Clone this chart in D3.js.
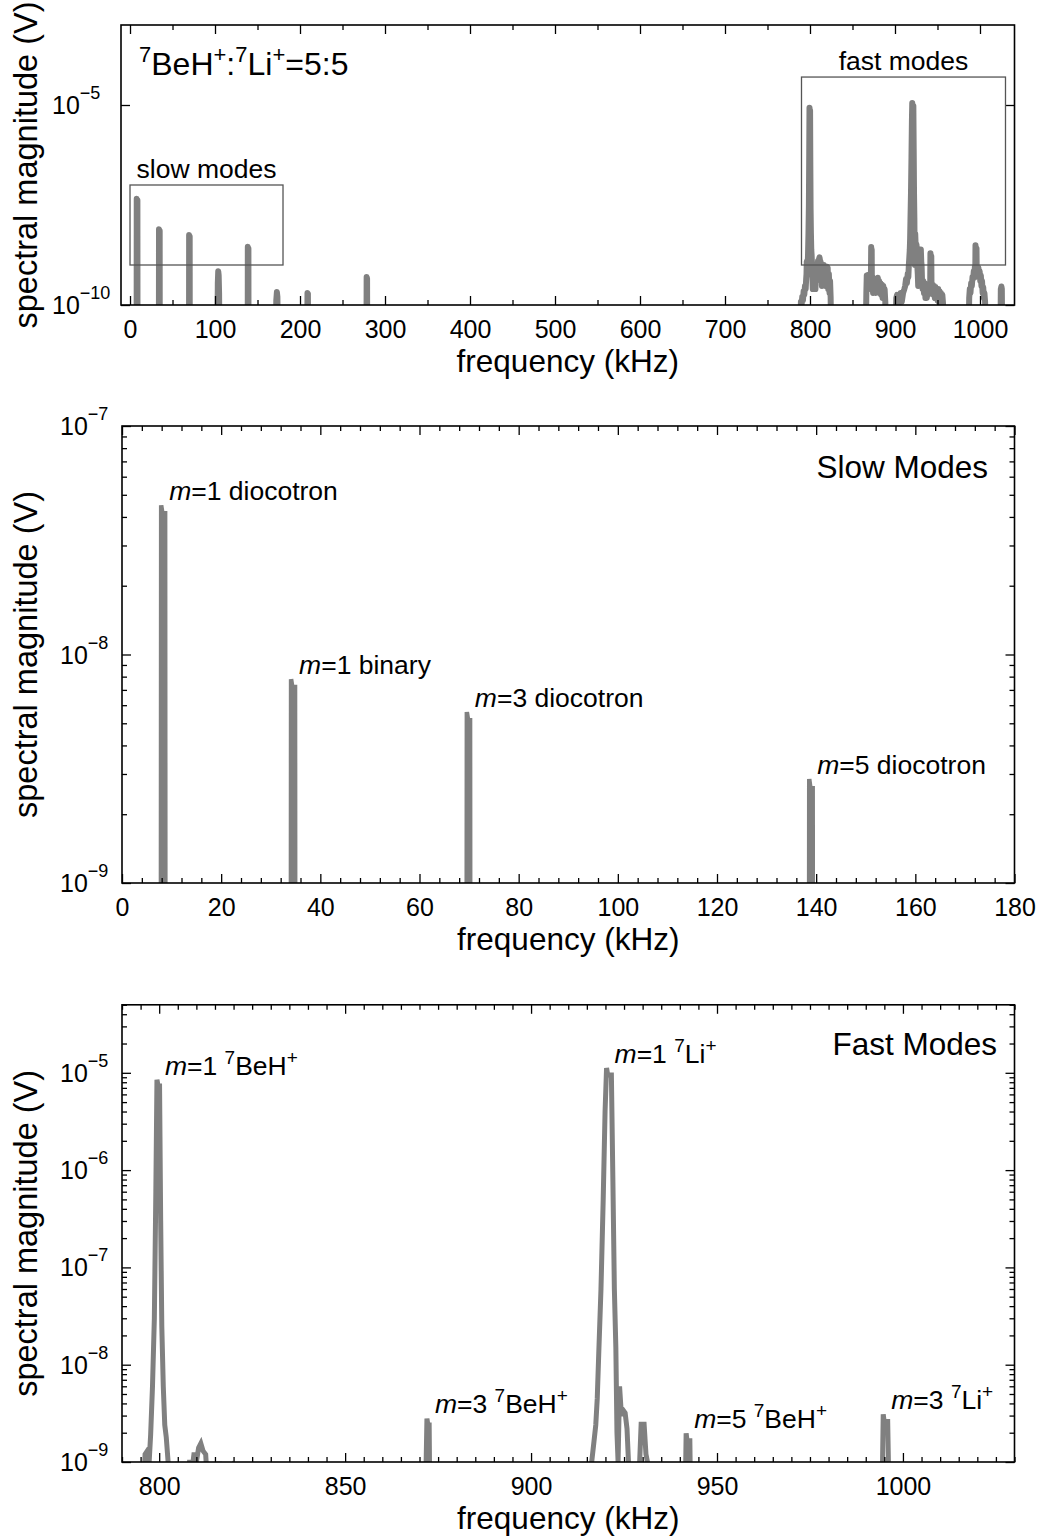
<!DOCTYPE html>
<html>
<head>
<meta charset="utf-8">
<script src="https://cdn.jsdelivr.net/npm/d3@7"></script>
<style>
  body { margin: 0; background: #fff; }
  text { font-family: 'Liberation Sans', Arial, Helvetica, sans-serif; fill: #000; }
</style>
</head>
<body>
<svg id="fig" width="1039" height="1539"></svg>
<script>
// ---- spectrum: [frequency (kHz), spectral magnitude (V)] ----
const slowSpectrum = [
  [0, 1e-11],
  [7.8, 1e-11], [7.9, 4.5e-8], [8.15, 4.15e-8], [8.7, 4.15e-8], [8.8, 1e-11],
  [34.0, 1e-11], [34.1, 7.8e-9], [34.35, 7.2e-9], [34.9, 7.2e-9], [35.0, 1e-11],
  [69.45, 1e-11], [69.55, 5.6e-9], [69.8, 5.15e-9], [70.2, 5.15e-9], [70.3, 1e-11],
  [102.8, 1e-11], [103.3, 3.5e-10], [103.8, 7e-10], [104.3, 5.5e-10], [104.8, 2e-10], [105.2, 1e-11],
  [138.5, 1e-11], [138.6, 2.85e-9], [138.85, 2.6e-9], [139.3, 2.6e-9], [139.4, 1e-11],
  [171.6, 1e-11], [172.1, 1.3e-10], [172.8, 2.1e-10], [173.4, 1.6e-10], [173.9, 1e-11],
  [208.5, 1e-11], [208.8, 2e-10], [209.3, 1.9e-10], [209.6, 1e-11],
  [278.2, 1e-11], [278.4, 5e-10], [278.9, 4.6e-10], [279.1, 1e-11]
];

const fastSpectrum = [
  // m=1 7BeH+ and its skirt
  [788.5, 1e-11], [789.3, 1.2e-10], [790.1, 1e-10], [790.9, 1.6e-10], [791.7, 1.3e-10],
  [792.5, 2.2e-10], [793.3, 1.8e-10], [794.1, 3e-10], [794.9, 2.5e-10], [795.5, 4.5e-10],
  [795.9, 6e-10], [796.2, 1.2e-9], [796.8, 1.3e-9], [797.3, 1.0e-9], [797.7, 1.9e-9],
  [798.2, 6e-9], [798.7, 3e-8], [799.1, 6e-7], [799.4, 8.5e-6], [799.7, 7.3e-6],
  [800.1, 7.3e-6], [800.4, 3e-7], [800.7, 2.5e-8], [801.1, 6e-9], [801.5, 2.4e-9],
  [801.9, 1.8e-9], [802.4, 1.0e-9], [802.8, 5e-10], [803.3, 2.5e-10], [803.8, 6e-10],
  [804.3, 3e-10], [805.0, 1.0e-9], [805.4, 4e-10], [805.9, 7e-10], [806.4, 2.5e-10],
  [806.9, 6e-10], [807.5, 4e-10], [808.2, 1.05e-9], [808.8, 8e-10], [809.4, 1.25e-9],
  [810.0, 1.0e-9], [810.6, 1.4e-9], [811.2, 1.55e-9], [811.8, 1.3e-9], [812.5, 1.2e-9],
  [813.0, 6e-10], [813.5, 8e-10], [814.0, 3e-10], [814.6, 7e-10], [815.2, 4e-10],
  [816.2, 1.0e-9], [817.0, 5e-10], [817.6, 8e-10], [818.2, 3e-10], [818.8, 7e-10],
  [819.5, 4e-10], [820.2, 9e-10], [820.8, 8.5e-10], [821.5, 2.5e-10], [822.2, 6e-10],
  [823.0, 2e-10], [823.6, 4e-10], [824.3, 1.5e-10], [825.0, 1e-11],
  // m=3 7BeH+ region
  [865.5, 1e-11], [866.3, 2e-10], [866.8, 5.5e-10], [867.4, 3e-10], [868.0, 5.6e-10],
  [868.6, 2.5e-10], [869.3, 5e-10], [870.0, 3e-10], [870.8, 5e-10], [871.6, 4e-10],
  [872.0, 2.8e-9], [872.25, 2.4e-9], [872.6, 2.4e-9], [872.8, 3e-10], [873.5, 4.5e-10],
  [874.2, 2e-10], [875.0, 4e-10], [875.8, 2.5e-10], [876.6, 4.5e-10], [877.4, 2e-10],
  [878.2, 4.2e-10], [879.0, 3e-10], [879.8, 4.8e-10], [880.6, 2.5e-10], [881.4, 4e-10],
  [882.2, 2e-10], [883.0, 3.5e-10], [883.8, 1.8e-10], [884.6, 3.2e-10], [885.4, 1.5e-10],
  [886.2, 3e-10], [887.0, 1.5e-10], [887.8, 2.5e-10], [888.6, 1.2e-10], [889.5, 1e-11],
  // m=1 7Li+, m=5 7BeH+ region
  [900.5, 1e-11], [901.5, 1.5e-10], [902.5, 1.8e-10], [903.5, 1e-10], [905.0, 1.2e-10],
  [906.5, 2e-10], [908.0, 1.2e-10], [909.5, 2e-10], [911.0, 2.5e-10], [912.0, 3e-10],
  [913.0, 4.5e-10], [914.0, 3.5e-10], [915.0, 6e-10], [915.7, 5e-10], [916.3, 1.0e-9],
  [916.9, 1.6e-9], [917.4, 2.4e-9], [917.8, 4.5e-9], [918.2, 1.3e-8], [918.8, 6e-8],
  [919.4, 5e-7], [919.9, 4e-6], [920.3, 1.12e-5], [920.6, 9.5e-6], [921.6, 9.5e-6],
  [922.0, 8e-7], [922.4, 6e-8], [922.8, 1.5e-8], [923.1, 2e-9], [923.4, 1.0e-9],
  [923.8, 6e-9], [924.3, 3e-9], [924.8, 3.4e-9], [925.3, 3.2e-9], [925.8, 2.2e-9],
  [926.2, 1.0e-9], [926.8, 6e-10], [927.3, 3e-10], [927.8, 5e-10], [928.3, 3.5e-10],
  [928.8, 6e-10], [929.2, 1.0e-9], [929.6, 2.45e-9], [930.4, 2.45e-9], [930.9, 1.2e-9],
  [931.3, 1.0e-9], [931.8, 4e-10], [932.5, 2.5e-10], [933.3, 4e-10], [934.1, 2e-10],
  [935.0, 3.5e-10], [935.8, 1.5e-10], [936.6, 3e-10], [937.4, 1.5e-10], [938.2, 2.8e-10],
  [939.0, 1.8e-10], [939.8, 3e-10], [940.6, 2e-10], [941.4, 3e-10], [941.7, 1.97e-9],
  [941.95, 1.65e-9], [942.7, 1.65e-9], [942.95, 3e-10], [943.7, 2e-10], [944.5, 3.2e-10],
  [945.3, 1.8e-10], [946.1, 3e-10], [946.9, 1.5e-10], [947.7, 2.8e-10], [948.5, 1.5e-10],
  [949.3, 2.6e-10], [950.1, 1.3e-10], [950.9, 2.5e-10], [951.7, 1.2e-10], [952.5, 2.2e-10],
  [953.3, 1.2e-10], [954.1, 2e-10], [954.9, 1.1e-10], [955.7, 1.8e-10], [956.5, 1.1e-10],
  [957.5, 1e-11],
  // m=3 7Li+ region
  [986.5, 1e-11], [987.3, 1.5e-10], [988.0, 2.5e-10], [988.8, 2e-10], [989.6, 3.5e-10],
  [990.4, 3e-10], [991.2, 5e-10], [992.0, 4.5e-10], [992.7, 7e-10], [993.4, 6e-10],
  [994.0, 9e-10], [994.4, 5e-10], [994.7, 3.1e-9], [994.95, 2.6e-9], [995.9, 2.6e-9],
  [996.2, 6e-10], [996.8, 9e-10], [997.5, 6e-10], [998.2, 8.5e-10], [998.9, 5e-10],
  [999.6, 7e-10], [1000.3, 4e-10], [1001.0, 5.5e-10], [1001.7, 3e-10], [1002.4, 4e-10],
  [1003.1, 2e-10], [1003.8, 2.8e-10], [1004.5, 1.5e-10], [1005.2, 2e-10], [1006.0, 1.2e-10],
  [1007.0, 1e-11],
  [1024.0, 1e-11], [1024.5, 2.5e-10], [1025.2, 2.9e-10], [1025.7, 2.5e-10], [1026.2, 1e-11],
  [1040, 1e-11]
];

// ---- tick values / labels ----
const overviewXTicks = d3.range(0, 1001, 100);
const overviewXMinor = d3.range(50, 1000, 100);
const overviewYExp = [-10, -5];
const slowXTicks = d3.range(0, 181, 20);
const slowXMinor = d3.range(0, 181, 4).filter(v => v % 20 !== 0);
const slowYExp = [-9, -8, -7];
const fastXTicks = [800, 850, 900, 950, 1000];
const fastXMinor = d3.range(790, 1031, 5).filter(v => v % 50 !== 0);
const fastYExp = [-9, -8, -7, -6, -5];

// ---- peak annotations: label parts + the peak point they sit on ----
const slowLabels = [
  { f: 7.9,   v: 4.5e-8,  parts: [{ t: 'm', i: 1 }, { t: '=1 diocotron' }] },
  { f: 34.1,  v: 7.8e-9,  parts: [{ t: 'm', i: 1 }, { t: '=1 binary' }] },
  { f: 69.55, v: 5.6e-9,  parts: [{ t: 'm', i: 1 }, { t: '=3 diocotron' }] },
  { f: 138.6, v: 2.85e-9, parts: [{ t: 'm', i: 1 }, { t: '=5 diocotron' }] }
];
const fastLabels = [
  { f: 799.4, v: 8.5e-6,  parts: [{ t: 'm', i: 1 }, { t: '=1 ' }, { t: '7', s: 1 }, { t: 'BeH' }, { t: '+', s: 1 }] },
  { f: 920.3, v: 1.12e-5, parts: [{ t: 'm', i: 1 }, { t: '=1 ' }, { t: '7', s: 1 }, { t: 'Li' }, { t: '+', s: 1 }] },
  { f: 872.0, v: 2.8e-9,  parts: [{ t: 'm', i: 1 }, { t: '=3 ' }, { t: '7', s: 1 }, { t: 'BeH' }, { t: '+', s: 1 }] },
  { f: 941.7, v: 1.97e-9, parts: [{ t: 'm', i: 1 }, { t: '=5 ' }, { t: '7', s: 1 }, { t: 'BeH' }, { t: '+', s: 1 }] },
  { f: 994.7, v: 3.1e-9,  parts: [{ t: 'm', i: 1 }, { t: '=3 ' }, { t: '7', s: 1 }, { t: 'Li' }, { t: '+', s: 1 }] }
];
const mixTitle = [{ t: '7', s: 1 }, { t: 'BeH' }, { t: '+', s: 1 }, { t: ':' }, { t: '7', s: 1 }, { t: 'Li' }, { t: '+', s: 1 }, { t: '=5:5' }];

const svg = d3.select('#fig');
const LINE = '#808080';

// text with optional italic / superscript runs
function richText(parent, x, y, parts, size, supSize, rise, anchor) {
  const sup = supSize || size * 0.7, lift = rise || size * 0.42;
  const t = parent.append('text').attr('x', x).attr('y', y)
    .attr('font-size', size).attr('text-anchor', anchor || 'start');
  let up = false;
  parts.forEach(p => {
    const ts = t.append('tspan').text(p.t);
    if (p.i) ts.attr('font-style', 'italic');
    if (p.s) {
      ts.attr('font-size', sup);
      if (!up) { ts.attr('dy', -lift); up = true; }
    } else if (up) { ts.attr('dy', lift); up = false; }
  });
  return t;
}

function drawPanel(cfg) {
  const x = d3.scaleLinear().domain(cfg.xDom).range([cfg.left, cfg.right]);
  const y = d3.scaleLog().domain(cfg.yDom).range([cfg.bottom, cfg.top]);
  const g = svg.append('g');
  const clipId = 'clip-' + cfg.id;
  svg.append('clipPath').attr('id', clipId).append('rect')
    .attr('x', cfg.left).attr('y', cfg.top)
    .attr('width', cfg.right - cfg.left).attr('height', cfg.bottom - cfg.top);

  g.append('path').datum(cfg.data)
    .attr('clip-path', `url(#${clipId})`)
    .attr('d', d3.line().x(d => x(d[0])).y(d => y(d[1])))
    .attr('fill', 'none').attr('stroke', LINE)
    .attr('stroke-width', cfg.lw)
    .attr('stroke-linejoin', cfg.round ? 'round' : 'miter')
    .attr('stroke-linecap', cfg.round ? 'round' : 'butt');

  // inward ticks on all four sides
  const ticks = (axisFn, scale, vals, size, tr) => {
    g.append('g').attr('transform', tr)
      .call(axisFn(scale).tickValues(vals).tickSize(-size).tickFormat(''))
      .call(s => s.select('.domain').remove())
      .call(s => s.selectAll('text').remove())
      .selectAll('line').attr('stroke', '#000').attr('stroke-width', 1.3);
  };
  const yMajor = cfg.yExp.map(e => Math.pow(10, e));
  ticks(d3.axisBottom, x, cfg.xTicks, 9, `translate(0,${cfg.bottom})`);
  ticks(d3.axisBottom, x, cfg.xMinor, 5, `translate(0,${cfg.bottom})`);
  ticks(d3.axisTop, x, cfg.xTicks, 9, `translate(0,${cfg.top})`);
  ticks(d3.axisTop, x, cfg.xMinor, 5, `translate(0,${cfg.top})`);
  ticks(d3.axisLeft, y, yMajor, 9, `translate(${cfg.left},0)`);
  ticks(d3.axisRight, y, yMajor, 9, `translate(${cfg.right},0)`);
  if (cfg.yMinor) {
    const minor = [];
    cfg.yExp.forEach(e => d3.range(2, 10).forEach(m => {
      const v = m * Math.pow(10, e);
      if (v <= cfg.yDom[1] * 1.0001) minor.push(v);
    }));
    ticks(d3.axisLeft, y, minor, 5, `translate(${cfg.left},0)`);
    ticks(d3.axisRight, y, minor, 5, `translate(${cfg.right},0)`);
  }

  // frame
  g.append('rect').attr('x', cfg.left).attr('y', cfg.top)
    .attr('width', cfg.right - cfg.left).attr('height', cfg.bottom - cfg.top)
    .attr('fill', 'none').attr('stroke', '#000').attr('stroke-width', 1.6);

  // x tick labels
  g.append('g').attr('transform', `translate(0,${cfg.bottom})`)
    .call(d3.axisBottom(x).tickValues(cfg.xTicks).tickSize(0).tickFormat(d3.format('d')))
    .call(s => s.select('.domain').remove())
    .selectAll('text').attr('y', 33).attr('dy', null)
    .attr('font-size', 25).attr('fill', '#000')
    .attr('font-family', "'Liberation Sans', Arial, sans-serif");

  // y tick labels (powers of ten)
  cfg.yExp.forEach(e => {
    richText(g, cfg.yLabX, y(Math.pow(10, e)) + 9,
      [{ t: '10' }, { t: '\u2212' + Math.abs(e), s: 1 }], 25, 18, 15);
  });

  // axis titles
  g.append('text').attr('x', (cfg.left + cfg.right) / 2).attr('y', cfg.bottom + 67)
    .attr('text-anchor', 'middle').attr('font-size', 31.5).text('frequency (kHz)');
  g.append('text')
    .attr('transform', `translate(37,${(cfg.top + cfg.bottom) / 2}) rotate(-90)`)
    .attr('text-anchor', 'middle').attr('font-size', 32.5).text('spectral magnitude (V)');

  return { g, x, y };
}

// ---- panels ----
const P1 = { id: 'all', left: 121, right: 1014.5, top: 25, bottom: 305,
  xDom: [-10.6, 1040.6], yDom: [1e-10, 1e-3],
  xTicks: overviewXTicks, xMinor: overviewXMinor, yExp: overviewYExp, yMinor: false,
  data: slowSpectrum.concat(fastSpectrum), lw: 6, round: true, yLabX: 52 };
const P2 = { id: 'slow', left: 122, right: 1014.5, top: 426, bottom: 883,
  xDom: [0, 180], yDom: [1e-9, 1e-7],
  xTicks: slowXTicks, xMinor: slowXMinor, yExp: slowYExp, yMinor: true,
  data: slowSpectrum, lw: 4.5, round: false, yLabX: 60 };
const P3 = { id: 'fast', left: 122, right: 1014.5, top: 1004.8, bottom: 1462,
  xDom: [790, 1030], yDom: [1e-9, 5e-5],
  xTicks: fastXTicks, xMinor: fastXMinor, yExp: fastYExp, yMinor: true,
  data: fastSpectrum, lw: 5, round: false, yLabX: 60 };

const A = drawPanel(P1);
const B = drawPanel(P2);
const C = drawPanel(P3);

// zoom windows marked on the overview
[[P2, 'slow modes'], [P3, 'fast modes']].forEach(([p, name]) => {
  const x0 = A.x(p.xDom[0]), x1 = A.x(p.xDom[1]);
  const y0 = A.y(p.yDom[1]), y1 = A.y(p.yDom[0]);
  A.g.append('rect').attr('x', x0).attr('y', y0).attr('width', x1 - x0).attr('height', y1 - y0)
    .attr('fill', 'none').attr('stroke', '#555').attr('stroke-width', 1.3);
  A.g.append('text').attr('x', (x0 + x1) / 2).attr('y', y0 - 7)
    .attr('text-anchor', 'middle').attr('font-size', 26.5).text(name);
});
richText(A.g, P1.left + 18, P1.top + 50, mixTitle, 32, 22, 13);

// panel headings
B.g.append('text').attr('x', P2.right - 26.5).attr('y', P2.top + 52)
  .attr('text-anchor', 'end').attr('font-size', 31.5).text('Slow Modes');
C.g.append('text').attr('x', P3.right - 17.5).attr('y', P3.top + 50)
  .attr('text-anchor', 'end').attr('font-size', 31.5).text('Fast Modes');

// peak annotations
slowLabels.forEach(d => richText(B.g, B.x(d.f) + 8, B.y(d.v) - 5, d.parts, 26.5));
fastLabels.forEach(d => richText(C.g, C.x(d.f) + 8, C.y(d.v) - 5, d.parts, 26.5, 19, 11));
</script>
</body>
</html>
